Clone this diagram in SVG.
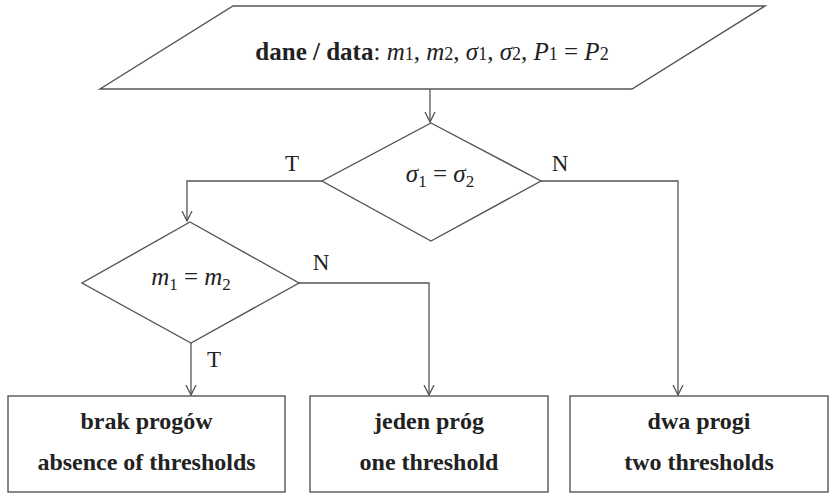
<svg xmlns="http://www.w3.org/2000/svg" width="835" height="494" viewBox="0 0 835 494">
<style>
.shape{fill:#fff;stroke:#555;stroke-width:1.4}
.conn{fill:none;stroke:#555;stroke-width:1.3}
.t{font-family:"Liberation Serif","DejaVu Serif",serif;fill:#222}
.b{font-weight:bold}
.box{font-size:24px;font-weight:bold;text-anchor:middle}
.lbl{font-size:23px}
.math{font-style:italic;font-size:25px}
.sub{font-size:17px;font-style:normal}
</style>
<defs>
<marker id="arr" markerWidth="12" markerHeight="12" refX="10" refY="6" orient="auto" markerUnits="userSpaceOnUse">
<polyline points="0,1 10,6 0,11" fill="none" stroke="#555" stroke-width="1.3"/>
</marker>
</defs>
<rect width="835" height="494" fill="#fff"/>
<g id="connectors">
<line class="conn" x1="430" y1="89" x2="430" y2="122" marker-end="url(#arr)"/>
<polyline class="conn" points="322,181 187,181 187,221" marker-end="url(#arr)"/>
<polyline class="conn" points="541,181 678,181 678,395" marker-end="url(#arr)"/>
<line class="conn" x1="191" y1="343" x2="191" y2="395" marker-end="url(#arr)"/>
<polyline class="conn" points="299,283 429,283 429,395" marker-end="url(#arr)"/>
</g>
<g id="labels">
<text class="t lbl" x="292" y="171" text-anchor="middle">T</text>
<text class="t lbl" x="560" y="171" text-anchor="middle">N</text>
<text class="t lbl" x="321" y="270" text-anchor="middle">N</text>
<text class="t lbl" x="214" y="367" text-anchor="middle">T</text>
</g>
<g id="data">
<polygon class="shape" points="233,6 765,6 632,89 100,89"/>
<text class="t" x="432" y="60" text-anchor="middle" font-size="25"><tspan class="b">dane / data</tspan>: <tspan font-style="italic">m</tspan><tspan font-size="18">1</tspan>, <tspan font-style="italic">m</tspan><tspan font-size="18">2</tspan>, <tspan font-style="italic">σ</tspan><tspan font-size="18">1</tspan>, <tspan font-style="italic">σ</tspan><tspan font-size="18">2</tspan>, <tspan font-style="italic">P</tspan><tspan font-size="18">1</tspan> = <tspan font-style="italic">P</tspan><tspan font-size="18">2</tspan></text>
</g>
<g id="cond1">
<polygon class="shape" points="431,123 541,181 431,241 322,181"/>
<text class="t math" x="440" y="182" text-anchor="middle">σ<tspan class="sub" dy="5">1</tspan><tspan dy="-5" font-style="normal"> = </tspan>σ<tspan class="sub" dy="5">2</tspan></text>
</g>
<g id="cond2">
<polygon class="shape" points="190,222 299,283 191,343 82,283"/>
<text class="t math" x="191" y="285" text-anchor="middle">m<tspan class="sub" dy="5">1</tspan><tspan dy="-5" font-style="normal"> = </tspan>m<tspan class="sub" dy="5">2</tspan></text>
</g>
<g id="none">
<rect class="shape" x="8" y="396" width="277" height="96"/>
<text class="t box" x="146.5" y="429">brak progów</text>
<text class="t box" x="146.5" y="470">absence of thresholds</text>
</g>
<g id="one">
<rect class="shape" x="310" y="396" width="238" height="96"/>
<text class="t box" x="429" y="429">jeden próg</text>
<text class="t box" x="429" y="470">one threshold</text>
</g>
<g id="two">
<rect class="shape" x="570" y="396" width="258" height="96"/>
<text class="t box" x="699" y="429">dwa progi</text>
<text class="t box" x="699" y="470">two thresholds</text>
</g>
</svg>
